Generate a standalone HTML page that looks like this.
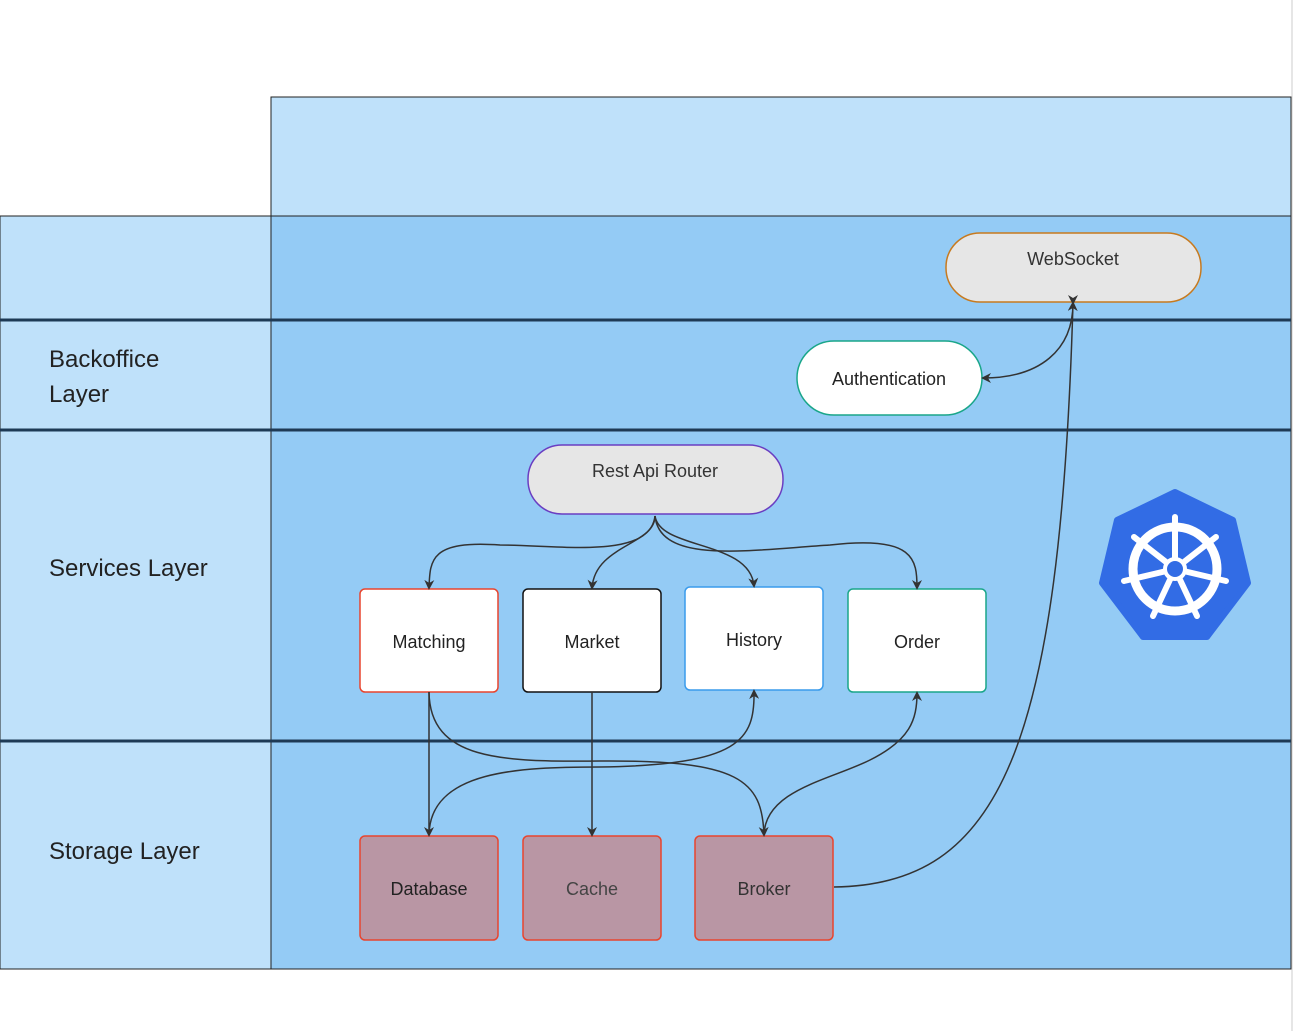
<!DOCTYPE html>
<html><head><meta charset="utf-8"><style>
html,body{margin:0;padding:0;background:#fff;}
svg{display:block;font-family:"Liberation Sans","DejaVu Sans",sans-serif;}
</style></head><body>
<svg width="1293" height="1031" viewBox="0 0 1293 1031" xmlns="http://www.w3.org/2000/svg">
<defs>
<marker id="a" markerWidth="10" markerHeight="10" refX="8" refY="5" orient="auto" markerUnits="userSpaceOnUse">
<path d="M0,0 L10,5 L0,10 L3,5 Z" fill="#333"/></marker>
</defs>
<rect x="0" y="0" width="1293" height="1031" fill="#fff"/>
<rect x="1291" y="0" width="2" height="1031" fill="#e6e6e6"/>
<rect x="271" y="97" width="1020" height="119" fill="#bfe1fa" stroke="#222" stroke-width="1"/>
<rect x="0" y="216" width="271" height="753" fill="#bfe1fa" stroke="#222" stroke-width="1"/>
<rect x="271" y="216" width="1020" height="753" fill="#94cbf5" stroke="#222" stroke-width="1"/>
<g stroke="#1e3a55" stroke-width="3">
<line x1="0" y1="320" x2="1291" y2="320"/>
<line x1="0" y1="430" x2="1291" y2="430"/>
<line x1="0" y1="741" x2="1291" y2="741"/>
</g>
<g font-size="24" fill="#222">
<text x="49" y="367">Backoffice</text>
<text x="49" y="402">Layer</text>
<text x="49" y="576">Services Layer</text>
<text x="49" y="859">Storage Layer</text>
</g>
<!-- nodes -->
<rect x="946" y="233" width="255" height="69" rx="34" fill="#e6e6e6" stroke="#c77a1f" stroke-width="1.5"/>
<text x="1073" y="265" font-size="18" fill="#333" text-anchor="middle">WebSocket</text>
<rect x="797" y="341" width="185" height="74" rx="37" fill="#fff" stroke="#1aa68a" stroke-width="1.5"/>
<text x="889" y="385" font-size="18" fill="#222" text-anchor="middle">Authentication</text>
<rect x="528" y="445" width="255" height="69" rx="34" fill="#e6e6e6" stroke="#6a3ec2" stroke-width="1.5"/>
<text x="655" y="477" font-size="18" fill="#333" text-anchor="middle">Rest Api Router</text>
<rect x="360" y="589" width="138" height="103" rx="5" fill="#fff" stroke="#e8452e" stroke-width="1.5"/>
<text x="429" y="648" font-size="18" fill="#222" text-anchor="middle">Matching</text>
<rect x="523" y="589" width="138" height="103" rx="5" fill="#fff" stroke="#111" stroke-width="1.5"/>
<text x="592" y="648" font-size="18" fill="#222" text-anchor="middle">Market</text>
<rect x="685" y="587" width="138" height="103" rx="5" fill="#fff" stroke="#3a9bec" stroke-width="1.5"/>
<text x="754" y="646" font-size="18" fill="#222" text-anchor="middle">History</text>
<rect x="848" y="589" width="138" height="103" rx="5" fill="#fff" stroke="#1aa68a" stroke-width="1.5"/>
<text x="917" y="648" font-size="18" fill="#222" text-anchor="middle">Order</text>
<g fill="#b996a4" stroke="#e8452e" stroke-width="1.5">
<rect x="360" y="836" width="138" height="104" rx="5"/>
<rect x="523" y="836" width="138" height="104" rx="5"/>
<rect x="695" y="836" width="138" height="104" rx="5"/>
</g>
<text x="429" y="895" font-size="18" fill="#222" text-anchor="middle">Database</text>
<text x="592" y="895" font-size="18" fill="#444" text-anchor="middle">Cache</text>
<text x="764" y="895" font-size="18" fill="#333" text-anchor="middle">Broker</text>
<!-- connectors -->
<g fill="none" stroke="#333" stroke-width="1.5">
<path d="M655,516 C650,560 560,545 500,545 C430,540 430,560 429,588" marker-end="url(#a)"/>
<path d="M655,516 C655,545 595,545 592,588" marker-end="url(#a)"/>
<path d="M655,516 C660,550 750,540 754,586" marker-end="url(#a)"/>
<path d="M655,516 C660,565 750,550 830,545 C915,535 917,560 917,588" marker-end="url(#a)"/>
<path d="M429,692 L429,835" marker-end="url(#a)"/>
<path d="M592,692 L592,835" marker-end="url(#a)"/>
<path d="M429,692 C430,760 500,762 600,761 C740,760 762,780 764,835" marker-end="url(#a)"/>
<path d="M429,835 C430,770 520,767 600,767 C740,765 755,740 754,691" marker-end="url(#a)"/>
<path d="M764,835 C765,790 830,780 870,760 C910,740 917,720 917,693" marker-end="url(#a)"/>
<path d="M834,887 C1000,885 1060,750 1073,303" marker-end="url(#a)"/>
<path d="M1073,303 C1073,350 1040,378 983,378" marker-end="url(#a)" marker-start="url(#a)"/>
</g>
<!-- kubernetes -->
<g transform="translate(1175,567)">
<polygon points="0,-75 58,-47 73,16 32,70 -32,70 -73,16 -58,-47" fill="#326ce5" stroke="#326ce5" stroke-width="6" stroke-linejoin="round"/>
<g stroke="#fff" fill="none" stroke-width="6" stroke-linecap="round">
<circle cx="0" cy="2" r="42" stroke-width="9"/>
<g stroke-width="6">
<line x1="0" y1="2" x2="0" y2="-50"/>
<line x1="0" y1="2" x2="41" y2="-30"/>
<line x1="0" y1="2" x2="51" y2="14"/>
<line x1="0" y1="2" x2="22" y2="49"/>
<line x1="0" y1="2" x2="-22" y2="49"/>
<line x1="0" y1="2" x2="-51" y2="14"/>
<line x1="0" y1="2" x2="-41" y2="-30"/>
</g>
</g>
<circle cx="0" cy="2" r="10" fill="#326ce5" stroke="#fff" stroke-width="4"/>
</g>
</svg>
</body></html>
